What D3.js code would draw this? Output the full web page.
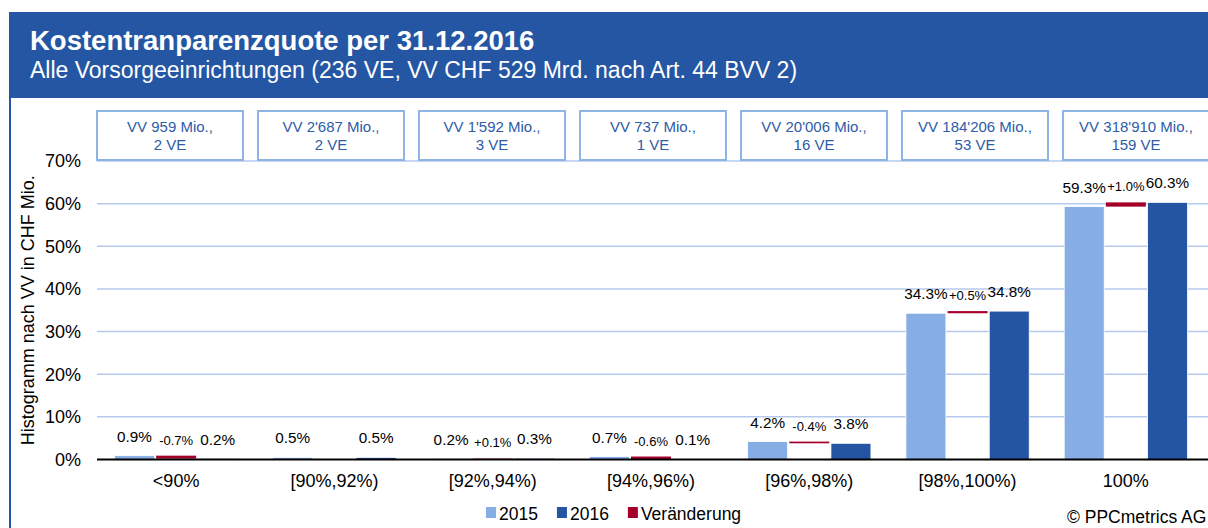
<!DOCTYPE html>
<html>
<head>
<meta charset="utf-8">
<script src="https://cdnjs.cloudflare.com/ajax/libs/d3/7.8.5/d3.min.js"></script>
<style>
  body { margin: 0; background: #fff; }
  svg { display: block; font-family: "Liberation Sans", Arial, sans-serif; }
</style>
</head>
<body>
<div id="chart"></div>
<script>
var categories = ['<90%', '[90%,92%)', '[92%,94%)', '[94%,96%)', '[96%,98%)', '[98%,100%)', '100%'];
var values2015 = [0.9, 0.5, 0.2, 0.7, 4.2, 34.3, 59.3];
var values2016 = [0.2, 0.5, 0.3, 0.1, 3.8, 34.8, 60.3];
var boxVolume = ["959", "2'687", "1'592", "737", "20'006", "184'206", "318'910"];
var boxCount = [2, 2, 3, 1, 16, 53, 159];
var yTicks = [0, 10, 20, 30, 40, 50, 60, 70];
var seriesNames = ['2015', '2016', 'Veränderung'];
var barOrder = ['2015', 'Veränderung', '2016'];

var _width = 1208, _height = 528,
    _colors = { '2015': '#86aee4', '2016': '#2455a3', 'Veränderung': '#a5002a' },
    _headerBlue = '#2456a3', _gridColor = '#b4c9ec', _boxStroke = '#8db4e2', _boxText = '#2e5ba6';

var svg = d3.select('#chart').append('svg')
    .attr('width', _width)
    .attr('height', _height);

// header band and frame
svg.append('rect')
    .attr('x', 9).attr('y', 12)
    .attr('width', _width - 9).attr('height', 86)
    .attr('fill', _headerBlue);

svg.append('line')
    .attr('x1', 10).attr('x2', 10)
    .attr('y1', 98).attr('y2', _height)
    .attr('stroke', _headerBlue)
    .attr('stroke-width', 2);

svg.append('text')
    .attr('x', 30).attr('y', 50)
    .attr('fill', '#fff')
    .attr('font-size', 27.5)
    .attr('font-weight', 'bold')
    .text('Kostentranparenzquote per 31.12.2016');

svg.append('text')
    .attr('x', 30).attr('y', 78)
    .attr('fill', '#fff')
    .attr('font-size', 23)
    .text('Alle Vorsorgeeinrichtungen (236 VE, VV CHF 529 Mrd. nach Art. 44 BVV 2)');

var x = d3.scaleBand()
    .domain(categories)
    .range([97, 1205]);

var x1 = d3.scaleBand()
    .domain(barOrder)
    .range([17.5, x.bandwidth() - 17.5])
    .paddingInner(0.04);

var y = d3.scaleLinear()
    .domain([0, 70])
    .range([459.5, 161]);

// grid lines
svg.append('g')
    .selectAll('line')
    .data(yTicks.filter(function(d) { return d > 0; }))
    .enter().append('line')
      .attr('x1', 97).attr('x2', _width)
      .attr('y1', function(d) { return y(d); })
      .attr('y2', function(d) { return y(d); })
      .attr('stroke', _gridColor)
      .attr('stroke-width', 1.5);

svg.append('g')
    .selectAll('text')
    .data(yTicks)
    .enter().append('text')
      .attr('x', 81)
      .attr('y', function(d) { return y(d); })
      .attr('dy', '0.36em')
      .attr('text-anchor', 'end')
      .attr('font-size', 18)
      .attr('fill', '#000')
      .text(function(d) { return d + '%'; });

svg.append('text')
    .attr('transform', 'translate(34,' + ((y(0) + y(70)) / 2) + ') rotate(-90)')
    .attr('text-anchor', 'middle')
    .attr('font-size', 18)
    .text('Histogramm nach VV in CHF Mio.');

// boxes above each category
var xb = d3.scaleBand()
    .domain(categories)
    .range([97, 1209])
    .paddingInner(15 / 161);

var boxes = svg.append('g')
    .selectAll('g')
    .data(categories)
    .enter().append('g')
      .attr('transform', function(d) { return 'translate(' + xb(d) + ',111)'; });

boxes.append('rect')
    .attr('width', xb.bandwidth())
    .attr('height', 49)
    .attr('fill', '#fff')
    .attr('stroke', _boxStroke)
    .attr('stroke-width', 2);

boxes.append('text')
    .attr('x', xb.bandwidth() / 2)
    .attr('y', 20.5)
    .attr('text-anchor', 'middle')
    .attr('font-size', 15)
    .attr('fill', _boxText)
    .text(function(d, i) { return 'VV ' + boxVolume[i] + ' Mio.,'; });

boxes.append('text')
    .attr('x', xb.bandwidth() / 2)
    .attr('y', 38.5)
    .attr('text-anchor', 'middle')
    .attr('font-size', 15)
    .attr('fill', _boxText)
    .text(function(d, i) { return boxCount[i] + ' VE'; });

// bars
var rows = categories.map(function(c, i) {
  return { cat: c, a: values2015[i], b: values2016[i], diff: values2016[i] - values2015[i] };
});

var groups = svg.append('g')
    .selectAll('g')
    .data(rows)
    .enter().append('g')
      .attr('transform', function(d) { return 'translate(' + x(d.cat) + ',0)'; });

groups.append('rect')
    .attr('x', x1('2015'))
    .attr('width', x1.bandwidth())
    .attr('y', function(d) { return y(d.a); })
    .attr('height', function(d) { return y(0) - y(d.a); })
    .attr('fill', _colors['2015'])
    .attr('stroke', '#fff')
    .attr('stroke-width', 0.8);

groups.append('rect')
    .attr('x', x1('Veränderung'))
    .attr('width', x1.bandwidth())
    .attr('y', function(d) { return y(Math.max(d.a, d.b)); })
    .attr('height', function(d) { return Math.abs(y(d.a) - y(d.b)); })
    .attr('fill', _colors['Veränderung']);

groups.append('rect')
    .attr('x', x1('2016'))
    .attr('width', x1.bandwidth())
    .attr('y', function(d) { return y(d.b); })
    .attr('height', function(d) { return y(0) - y(d.b); })
    .attr('fill', _colors['2016'])
    .attr('stroke', '#fff')
    .attr('stroke-width', 0.8);

groups.append('text')
    .attr('x', x1('2015') + x1.bandwidth() / 2)
    .attr('y', function(d) { return y(d.a) - 14; })
    .attr('text-anchor', 'middle')
    .attr('font-size', 15.3)
    .text(function(d) { return d.a.toFixed(1) + '%'; });

groups.append('text')
    .attr('x', x1('2016') + x1.bandwidth() / 2)
    .attr('y', function(d) { return y(d.b) - 14; })
    .attr('text-anchor', 'middle')
    .attr('font-size', 15.3)
    .text(function(d) { return d.b.toFixed(1) + '%'; });

groups.append('text')
    .attr('x', x1('Veränderung') + x1.bandwidth() / 2)
    .attr('y', function(d) { return y(Math.max(d.a, d.b)) - 11; })
    .attr('text-anchor', 'middle')
    .attr('font-size', 13)
    .text(function(d) {
      if(Math.abs(d.diff) < 0.05) return '';
      return (d.diff > 0 ? '+' : '') + d.diff.toFixed(1) + '%';
    });

// x axis
svg.append('line')
    .attr('x1', 97).attr('x2', _width)
    .attr('y1', y(0)).attr('y2', y(0))
    .attr('stroke', '#000')
    .attr('stroke-width', 2);

svg.append('g')
    .selectAll('text')
    .data(categories)
    .enter().append('text')
      .attr('x', function(d) { return x(d) + x.bandwidth() / 2; })
      .attr('y', 486.5)
      .attr('text-anchor', 'middle')
      .attr('font-size', 18)
      .text(function(d) { return d; });

// legend
var legend = svg.append('g').attr('transform', 'translate(486,0)');
var lx = 0;
seriesNames.forEach(function(name) {
  legend.append('rect')
      .attr('x', lx).attr('y', 507)
      .attr('width', 10).attr('height', 11)
      .attr('fill', _colors[name]);
  var t = legend.append('text')
      .attr('x', lx + 13).attr('y', 520)
      .attr('font-size', 17.5)
      .text(name);
  lx += 13 + t.node().getComputedTextLength() + 19;
});

svg.append('text')
    .attr('x', 1067).attr('y', 523)
    .attr('font-size', 17.5)
    .text('© PPCmetrics AG');
</script>
</body>
</html>
